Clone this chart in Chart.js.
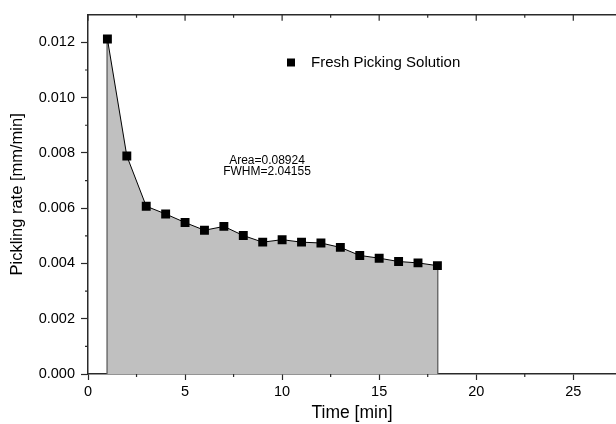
<!DOCTYPE html>
<html>
<head>
<meta charset="utf-8">
<script src="https://cdn.jsdelivr.net/npm/chart.js@4"></script>
<style>
  html, body { margin: 0; padding: 0; background: #fff; }
  #wrap { width: 616px; height: 424px; }
</style>
</head>
<body>
<div id="wrap"><canvas id="myChart" width="616" height="424"></canvas></div>
<script>
// values
const times = [1, 2, 3, 4, 5, 6, 7, 8, 9, 10, 11, 12, 13, 14, 15, 16, 17, 18];
const rates = [0.01212, 0.00789, 0.00607, 0.00579, 0.00548, 0.0052, 0.00534, 0.00501, 0.00477,
               0.00486, 0.00477, 0.00474, 0.00458, 0.00429, 0.00419, 0.00407, 0.00402, 0.00392];
const seriesName = "Fresh Picking Solution";
const notes = ["Area=0.08924", "FWHM=2.04155"];

const FONT = "'Liberation Sans', Arial, sans-serif";
const AXIS = "#2a2a2a";

const points = times.map((t, i) => ({ x: t, y: rates[i] }));
const firstDrop = [{ x: times[0], y: 0 }, { x: times[0], y: rates[0] }];
const lastDrop = [{ x: times[times.length - 1], y: 0 }, { x: times[times.length - 1], y: rates[rates.length - 1] }];

// minor ticks, the inward ticks of the top axis, the legend and the note
const extras = {
    id: "extras",
    afterDraw(chart) {
        const ctx = chart.ctx;
        const area = chart.chartArea;
        const xs = chart.scales.x, ys = chart.scales.y;
        ctx.save();
        ctx.strokeStyle = AXIS;
        ctx.lineWidth = 1.5;
        ctx.beginPath();
        ctx.moveTo(area.left, area.top);
        ctx.lineTo(area.right, area.top);
        ctx.stroke();
        ctx.lineWidth = 1.2;
        ctx.beginPath();
        for (let v = 0; v <= xs.max; v += 2.5) {
            const px = xs.getPixelForValue(v);
            const major = v % 5 === 0;
            ctx.moveTo(px, area.top);
            ctx.lineTo(px, area.top + (major ? 6 : 3));
            if (!major) {
                ctx.moveTo(px, area.bottom);
                ctx.lineTo(px, area.bottom + 3);
            }
        }
        for (let k = 1; k < 13; k += 2) {
            const py = ys.getPixelForValue(k / 1000);
            ctx.moveTo(area.left, py);
            ctx.lineTo(area.left - 3, py);
        }
        ctx.stroke();

        // legend
        ctx.fillStyle = "#000";
        ctx.fillRect(287, 58.5, 8, 8);
        ctx.font = "15px " + FONT;
        ctx.textBaseline = "middle";
        ctx.textAlign = "left";
        ctx.fillText(seriesName, 311, 63);

        // note
        ctx.font = "12px " + FONT;
        ctx.textAlign = "center";
        ctx.fillText(notes[0], 267, 161);
        ctx.fillText(notes[1], 267, 172);
        ctx.restore();
    }
};

new Chart(document.getElementById("myChart").getContext("2d"), {
    type: "scatter",
    data: {
        datasets: [
            {
                label: seriesName,
                data: points,
                showLine: true,
                borderColor: "#000",
                borderWidth: 1,
                backgroundColor: "#c0c0c0",
                fill: "origin",
                pointStyle: "rect",
                pointRadius: 6.3,
                pointBackgroundColor: "#000",
                pointBorderWidth: 0,
                order: 1,
            },
            {
                data: firstDrop,
                showLine: true,
                borderColor: "#5a5a5a",
                borderWidth: 2,
                pointRadius: 0,
                order: 2,
            },
            {
                data: lastDrop,
                showLine: true,
                borderColor: "#5a5a5a",
                borderWidth: 2,
                pointRadius: 0,
                order: 2,
            },
        ],
    },
    options: {
        responsive: false,
        animation: false,
        layout: { autoPadding: false, padding: { top: 13, right: 0, bottom: 0, left: 0 } },
        plugins: {
            legend: { display: false },
            tooltip: { enabled: false },
        },
        scales: {
            x: {
                type: "linear",
                min: 0,
                max: 27.2,
                afterFit(scale) {
                    scale.height = 50;
                    scale.paddingRight = 0;
                    scale.paddingLeft = 0;
                },
                border: { color: AXIS, width: 1.5 },
                grid: { drawOnChartArea: false, tickLength: 6, tickColor: AXIS, tickWidth: 1.2 },
                ticks: {
                    stepSize: 5,
                    includeBounds: false,
                    color: "#000",
                    padding: 3,
                    font: { family: FONT, size: 14.5 },
                },
                title: {
                    display: true,
                    text: "Time [min]",
                    color: "#000",
                    font: { family: FONT, size: 17.5 },
                    padding: { top: 0, bottom: 0 },
                },
            },
            y: {
                min: 0,
                max: 0.013,
                afterFit(scale) { scale.width = 88; },
                border: { color: AXIS, width: 1.5 },
                grid: { drawOnChartArea: false, tickLength: 7, tickColor: AXIS, tickWidth: 1.2 },
                ticks: {
                    stepSize: 0.002,
                    includeBounds: false,
                    color: "#000",
                    padding: 6,
                    font: { family: FONT, size: 14.5 },
                    callback: (v) => v.toFixed(3),
                },
                title: {
                    display: true,
                    text: "Pickling rate [mm/min]",
                    color: "#000",
                    font: { family: FONT, size: 16.5 },
                    padding: { top: 8, bottom: 0 },
                },
            },
        },
    },
    plugins: [extras],
});
</script>
</body>
</html>
